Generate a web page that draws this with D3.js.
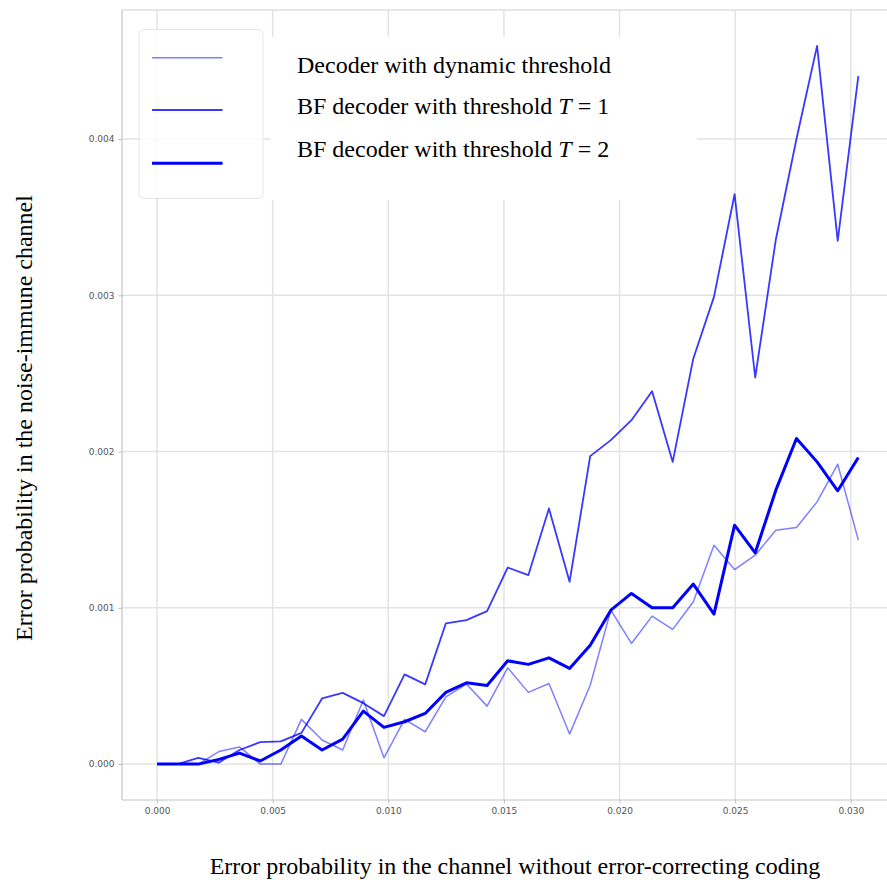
<!DOCTYPE html>
<html>
<head>
<meta charset="utf-8">
<script src="https://cdn.jsdelivr.net/npm/d3@7"></script>
<style>
  html, body { margin: 0; padding: 0; background: #fff; }
  svg { display: block; }
</style>
</head>
<body>
<svg id="chart" width="887" height="880"></svg>
<script>
// Channel error probability (x) for each simulation point
const channelErr = [0, 0.000892, 0.001784, 0.002676, 0.003568, 0.00446, 0.005352, 0.006244,
  0.007136, 0.008028, 0.00892, 0.009812, 0.010704, 0.011596, 0.012488, 0.01338, 0.014272,
  0.015164, 0.016056, 0.016948, 0.01784, 0.018732, 0.019624, 0.020516, 0.021408, 0.0223,
  0.023192, 0.024084, 0.024976, 0.025868, 0.02676, 0.027652, 0.028544, 0.029436, 0.030328];

// Residual error probability after decoding
const dynamicThreshold = [0, 0, 0, 0.00008, 0.00011, 0, 0, 0.000286, 0.000154, 0.00009,
  0.00041, 0.00004, 0.000286, 0.000207, 0.00043, 0.000512, 0.000371, 0.000616, 0.000459,
  0.000516, 0.000192, 0.000505, 0.000985, 0.000772, 0.000947, 0.000862, 0.001039, 0.0014,
  0.001245, 0.001337, 0.001497, 0.001514, 0.001678, 0.001919, 0.001433];

const bfThreshold1 = [0, 0, 0.00004, 0.00001, 0.00009, 0.00014, 0.000145, 0.0002, 0.00042,
  0.000456, 0.00039, 0.000307, 0.000574, 0.00051, 0.0009, 0.000921, 0.000979, 0.001258,
  0.001209, 0.001636, 0.001167, 0.001971, 0.002073, 0.002201, 0.002386, 0.001934, 0.002596,
  0.00299, 0.003647, 0.002474, 0.003357, 0.004, 0.004596, 0.003348, 0.004402];

const bfThreshold2 = [0, 0, 0, 0.00003, 0.00007, 0.00002, 0.00009, 0.00018, 0.00009, 0.00016,
  0.000339, 0.000235, 0.000271, 0.000324, 0.000459, 0.00052, 0.000503, 0.000661, 0.000638,
  0.00068, 0.000612, 0.000761, 0.000985, 0.001092, 0.001, 0.001, 0.001152, 0.00096, 0.001529,
  0.001352, 0.001753, 0.002084, 0.001934, 0.001749, 0.001962];

const xTicks = [0, 0.005, 0.01, 0.015, 0.02, 0.025, 0.03];
const yTicks = [0, 0.001, 0.002, 0.003, 0.004];

const seriesNames = [
  ["Decoder with dynamic threshold"],
  ["BF decoder with threshold ", "T", " = 1"],
  ["BF decoder with threshold ", "T", " = 2"]
];

const svg = d3.select("#chart");
const plot = { left: 122, right: 893.4, top: 10, bottom: 800 };

// 5% padding on both sides of the data range
function padded(ext) {
  const m = (ext[1] - ext[0]) * 0.05;
  return [ext[0] - m, ext[1] + m];
}
const allY = dynamicThreshold.concat(bfThreshold1, bfThreshold2);
const x = d3.scaleLinear().domain(padded(d3.extent(channelErr))).range([plot.left, plot.right]);
const y = d3.scaleLinear().domain(padded(d3.extent(allY))).range([plot.bottom, plot.top]);

// grid
const grid = svg.append("g");
grid.selectAll("line.gx").data(xTicks).join("line")
  .attr("x1", d => x(d)).attr("x2", d => x(d))
  .attr("y1", plot.top).attr("y2", plot.bottom)
  .attr("stroke", "#e3e3e3").attr("stroke-width", 1.5);
grid.selectAll("line.gy").data(yTicks).join("line")
  .attr("x1", plot.left).attr("x2", plot.right)
  .attr("y1", d => y(d)).attr("y2", d => y(d))
  .attr("stroke", "#e3e3e3").attr("stroke-width", 1.5);

// axes
const fmt = d3.format(".3f");
const xAxis = svg.append("g").attr("transform", `translate(0,${plot.bottom})`)
  .call(d3.axisBottom(x).tickValues(xTicks).tickFormat(fmt).tickSize(3.5).tickPadding(4));
const yAxis = svg.append("g").attr("transform", `translate(${plot.left},0)`)
  .call(d3.axisLeft(y).tickValues(yTicks).tickFormat(fmt).tickSize(3.5).tickPadding(4));
[xAxis, yAxis].forEach(a => {
  a.select(".domain").remove();
  a.selectAll(".tick line").attr("stroke", "#bdbdbd");
  a.selectAll(".tick text").attr("fill", "#555")
    .style("font-family", "'DejaVu Sans', sans-serif").style("font-size", "9px");
});

// spines
svg.append("line").attr("x1", plot.left).attr("x2", plot.left)
  .attr("y1", plot.top).attr("y2", plot.bottom).attr("stroke", "#c4c4c4").attr("stroke-width", 1.2);
svg.append("line").attr("x1", plot.left).attr("x2", plot.right)
  .attr("y1", plot.bottom).attr("y2", plot.bottom).attr("stroke", "#c4c4c4").attr("stroke-width", 1.2);
svg.append("line").attr("x1", plot.left).attr("x2", plot.right)
  .attr("y1", plot.top).attr("y2", plot.top).attr("stroke", "#cfcfcf").attr("stroke-width", 1.2);

// series lines
const series = [
  { values: dynamicThreshold, opacity: 0.5, width: 1.5 },
  { values: bfThreshold1, opacity: 0.78, width: 1.8 },
  { values: bfThreshold2, opacity: 1, width: 3 }
];
const line = d3.line().x(d => x(d[0])).y(d => y(d[1]));
series.forEach(s => {
  svg.append("path")
    .datum(channelErr.map((c, i) => [c, s.values[i]]))
    .attr("d", line)
    .attr("fill", "none")
    .attr("stroke", "blue")
    .attr("stroke-opacity", s.opacity)
    .attr("stroke-width", s.width)
    .attr("stroke-linejoin", "round");
});

// legend frame with sample lines
svg.append("rect").attr("x", 139).attr("y", 29.5).attr("width", 124).attr("height", 169)
  .attr("rx", 5).attr("fill", "#fff").attr("fill-opacity", 0.8)
  .attr("stroke", "#e6e6e6").attr("stroke-width", 1);
const legendY = [57.7, 110, 163.3];
series.forEach((s, i) => {
  svg.append("line").attr("x1", 152).attr("x2", 222.5)
    .attr("y1", legendY[i]).attr("y2", legendY[i])
    .attr("stroke", "blue").attr("stroke-opacity", s.opacity).attr("stroke-width", s.width);
});

// legend labels on a white panel
svg.append("rect").attr("x", 270).attr("y", 37).attr("width", 427).attr("height", 163).attr("fill", "#fff");
const labelBase = [73.3, 114, 157.3];
seriesNames.forEach((parts, i) => {
  const t = svg.append("text").attr("x", 297).attr("y", labelBase[i])
    .style("font-family", "'Liberation Serif', 'Times New Roman', serif")
    .style("font-size", "24px").attr("fill", "#000");
  parts.forEach((p, j) => {
    const ts = t.append("tspan").text(p);
    if (j === 1) ts.style("font-style", "italic");
  });
});

// axis titles
svg.append("text").attr("x", 515).attr("y", 874).attr("text-anchor", "middle")
  .style("font-family", "'Liberation Serif', 'Times New Roman', serif").style("font-size", "24px")
  .text("Error probability in the channel without error-correcting coding");
svg.append("text").attr("transform", "translate(32,418) rotate(-90)").attr("text-anchor", "middle")
  .style("font-family", "'Liberation Serif', 'Times New Roman', serif").style("font-size", "24px")
  .text("Error probability in the noise-immune channel");
</script>
</body>
</html>
